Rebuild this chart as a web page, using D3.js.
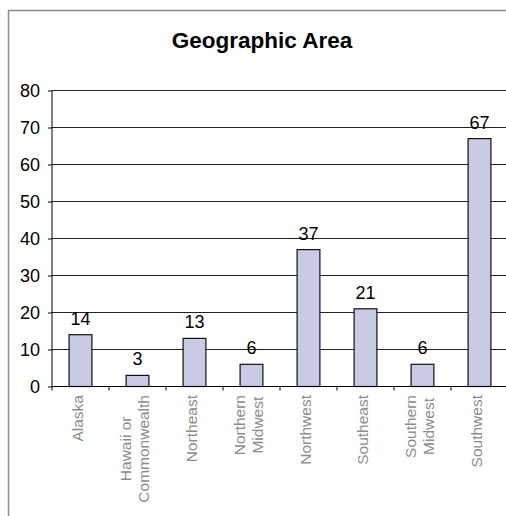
<!DOCTYPE html>
<html>
<head>
<meta charset="utf-8">
<script src="https://cdn.jsdelivr.net/npm/d3@7"></script>
<style>
  body { margin: 0; background: #fff; }
  svg { display: block; font-family: "Liberation Sans", Arial, sans-serif; }
</style>
</head>
<body>
<svg width="506" height="516"></svg>
<script>
// chart data
const title = "Geographic Area";
const categories = ["Alaska", "Hawaii or\nCommonwealth", "Northeast", "Northern\nMidwest",
    "Northwest", "Southeast", "Southern\nMidwest", "Southwest"];
const values = [14, 3, 13, 6, 37, 21, 6, 67];
const yTicks = [0, 10, 20, 30, 40, 50, 60, 70, 80];

const drawChart = () => {
    const svg = d3.select('svg');

    // outer chart border (runs off the right / bottom of the picture)
    svg.append('rect')
        .attr('x', 8.5).attr('y', 10.5)
        .attr('width', 600).attr('height', 600)
        .attr('fill', '#fff')
        .attr('stroke', '#8a8a8a')
        .attr('stroke-width', 1.5);

    svg.append('text')
        .attr('x', 262).attr('y', 48)
        .attr('text-anchor', 'middle')
        .attr('font-size', 22.5)
        .attr('font-weight', 'bold')
        .text(title);

    const left = 52, bottom = 386.5, top = 90.5;
    const band = 57;

    // one extra slot on the right: the plot area is cut by the picture edge
    const xScale = d3.scaleBand()
        .domain(categories.concat(['']))
        .range([left, left + band * (categories.length + 1)])
        .paddingInner(0).paddingOuter(0);

    const yScale = d3.scaleLinear()
        .domain([0, 80])
        .range([bottom, top]);

    // grid lines
    svg.append('g')
        .selectAll('line')
        .data(yTicks.slice(1))
        .enter().append('line')
        .attr('x1', left).attr('x2', 620)
        .attr('y1', d => yScale(d)).attr('y2', d => yScale(d))
        .attr('stroke', '#222')
        .attr('stroke-width', 1);

    // y axis
    const yAxis = d3.axisLeft(yScale)
        .tickValues(yTicks)
        .tickSize(4)
        .tickPadding(8)
        .tickFormat(d3.format('d'));

    const yg = svg.append('g')
        .attr('transform', 'translate(' + [left, 0] + ')')
        .call(yAxis);
    yg.select('.domain').attr('stroke', '#000').attr('d', 'M0,' + top + 'V' + bottom);
    yg.selectAll('.tick line').attr('stroke', '#000');
    yg.selectAll('.tick text')
        .attr('font-size', 18)
        .attr('font-family', '"Liberation Sans", Arial, sans-serif')
        .attr('fill', '#000');

    // bars
    const barW = band / 2.5;
    svg.append('g')
        .selectAll('rect')
        .data(values)
        .enter().append('rect')
        .attr('x', (d, i) => xScale(categories[i]) + (band - barW) / 2)
        .attr('y', d => yScale(d))
        .attr('width', barW)
        .attr('height', d => bottom - yScale(d))
        .attr('fill', '#c9cae4')
        .attr('stroke', '#111')
        .attr('stroke-width', 1.2);

    // value labels
    svg.append('g')
        .selectAll('text')
        .data(values)
        .enter().append('text')
        .attr('x', (d, i) => xScale(categories[i]) + band / 2)
        .attr('y', d => yScale(d) - 10)
        .attr('text-anchor', 'middle')
        .attr('font-size', 18)
        .text(d => d);

    // x axis line + ticks at category boundaries
    const boundaries = d3.range(categories.length + 1).map(i => left + i * band);
    svg.append('line')
        .attr('x1', left).attr('x2', 620)
        .attr('y1', bottom).attr('y2', bottom)
        .attr('stroke', '#000');
    svg.append('g')
        .selectAll('line')
        .data(boundaries)
        .enter().append('line')
        .attr('x1', d => d).attr('x2', d => d)
        .attr('y1', bottom).attr('y2', bottom + 4)
        .attr('stroke', '#000');

    // rotated category labels, block hangs from the axis, lines centred in the block
    const lineGap = 18;
    const labelTop = 395;
    categories.forEach((c, i) => {
        const lines = c.split('\n');
        const cx = xScale(c) + band / 2 - 3;
        const g = svg.append('g');
        const texts = lines.map((ln, j) => g.append('text')
            .attr('font-size', 15.5)
            .attr('fill', '#8c8c8c')
            .attr('text-anchor', 'middle')
            .attr('dy', '0.35em')
            .text(ln));
        const maxLen = d3.max(texts, t => t.node().getComputedTextLength());
        texts.forEach((t, j) => {
            const x = cx + (j - (lines.length - 1) / 2) * lineGap;
            t.attr('transform', 'translate(' + [x, labelTop + maxLen / 2] + ') rotate(-90)');
        });
    });
};

drawChart();
</script>
</body>
</html>
